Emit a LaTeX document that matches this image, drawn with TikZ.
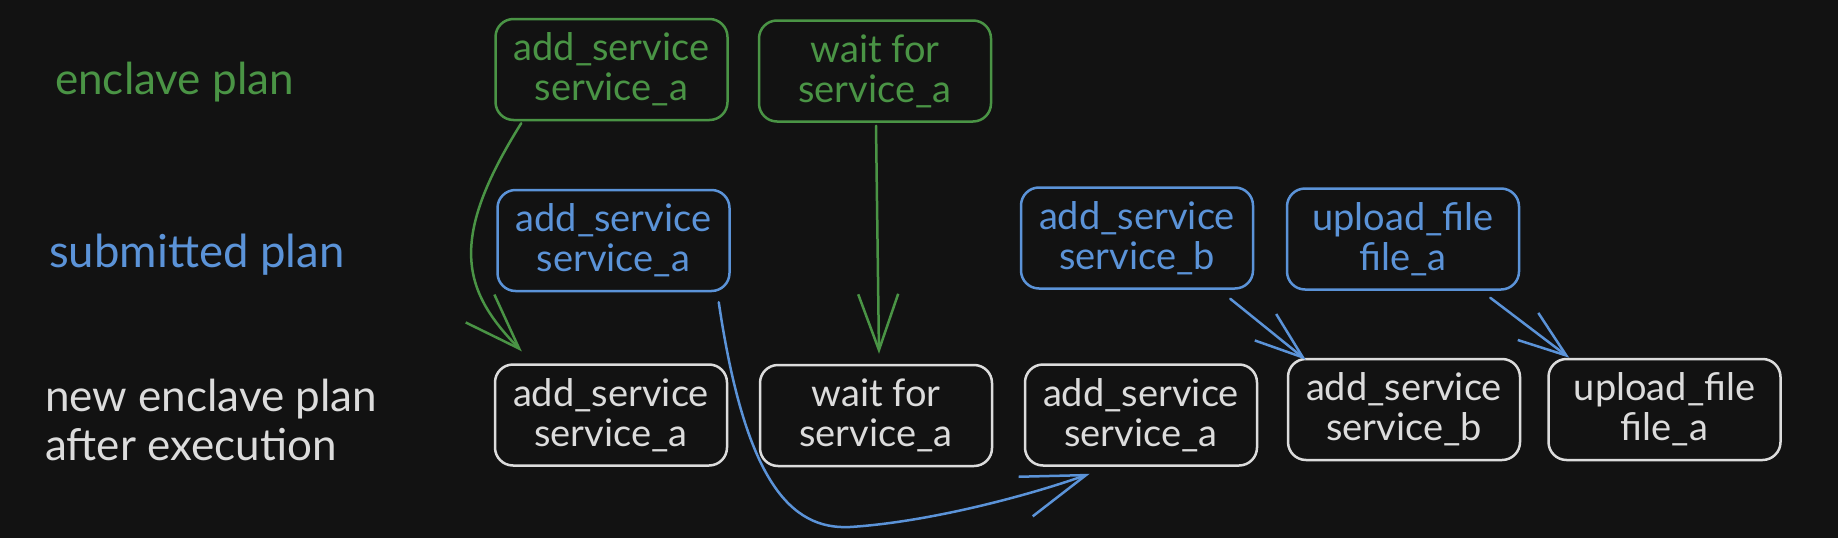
\documentclass[tikz,border=0pt]{standalone}
\usepackage{fontspec}
\setmainfont{Lato}
\usetikzlibrary{arrows.meta,calc}
\definecolor{bgc}{HTML}{121212}
\definecolor{grc}{HTML}{4A9445}
\definecolor{blc}{HTML}{5B93D8}
\definecolor{whc}{HTML}{DCDCDC}
\begin{document}
\begin{tikzpicture}[x=1pt,y=-1pt,
  box/.style={draw, line width=2.5pt, rounded corners=18pt, minimum width=232pt, minimum height=101pt,
    align=center, inner sep=0pt, font=\fontsize{38}{40}\selectfont},
  gbox/.style={box, draw=grc, text=grc},
  bbox/.style={box, draw=blc, text=blc},
  wbox/.style={box, draw=whc, text=whc},
  lab/.style={anchor=west, align=left, inner sep=0pt, font=\fontsize{44}{49}\selectfont},
  conn/.style={line width=2.5pt, line cap=round, line join=round, -{Straight Barb[length=#1]}},
  conn/.default={48pt 0 0, width=34pt}
]
\fill[bgc] (0,0) rectangle (1838,538);
\useasboundingbox (0,0) rectangle (1838,538);

% left labels
\node[lab, text=grc] (lenc) at (55,82) {enclave plan};
\node[lab, text=blc, font=\fontsize{45.5}{49}\selectfont] (lsub) at (49,255) {submitted plan};
\node[lab, text=whc] (lnew) at (45,420) {new enclave plan\\after execution};

% enclave plan
\node[gbox] (g1) at (611.5,69.5) {add\_service\\service\_a};
\node[gbox] (g2) at (875,71) {wait for\\service\_a};

% submitted plan
\node[bbox] (b1) at (613.5,240.5) {add\_service\\service\_a};
\node[bbox] (b2) at (1137,238) {add\_service\\service\_b};
\node[bbox] (b3) at (1403,239) {upload\_file\\file\_a};

% new enclave plan
\node[wbox] (w1) at (611,415) {add\_service\\service\_a};
\node[wbox] (w2) at (876,415.5) {wait for\\service\_a};
\node[wbox] (w3) at (1141,415) {add\_service\\service\_a};
\node[wbox] (w4) at (1404,409.5) {add\_service\\service\_b};
\node[wbox] (w5) at (1664.5,409.5) {upload\_file\\file\_a};

% connectors
\draw[conn={56pt 0 0, width=40pt}, grc] ($(g1.south west)+(27,2)$) .. controls (448,240) and (462,290) .. ($(w1.north west)+(28,-12)$);
\draw[conn={56pt 0 0, width=40pt}, grc] ($(g2.south)+(1,3)$) -- ($(w2.north)+(3,-10)$);
\draw[conn={64pt 0 0, width=42pt}, blc] ($(b1.south east)+(-12,10)$) .. controls (745,480) and (790,530) .. (850,527)
   .. controls (930,522) and (1030,495) .. ($(w3.south west)+(66,7)$);
\draw[conn, blc] ($(b2.south east)+(-24,9)$) -- ($(w4.north west)+(19,2)$);
\draw[conn, blc] ($(b3.south east)+(-30,7)$) -- ($(w5.north west)+(22,0)$);
\end{tikzpicture}
\end{document}
